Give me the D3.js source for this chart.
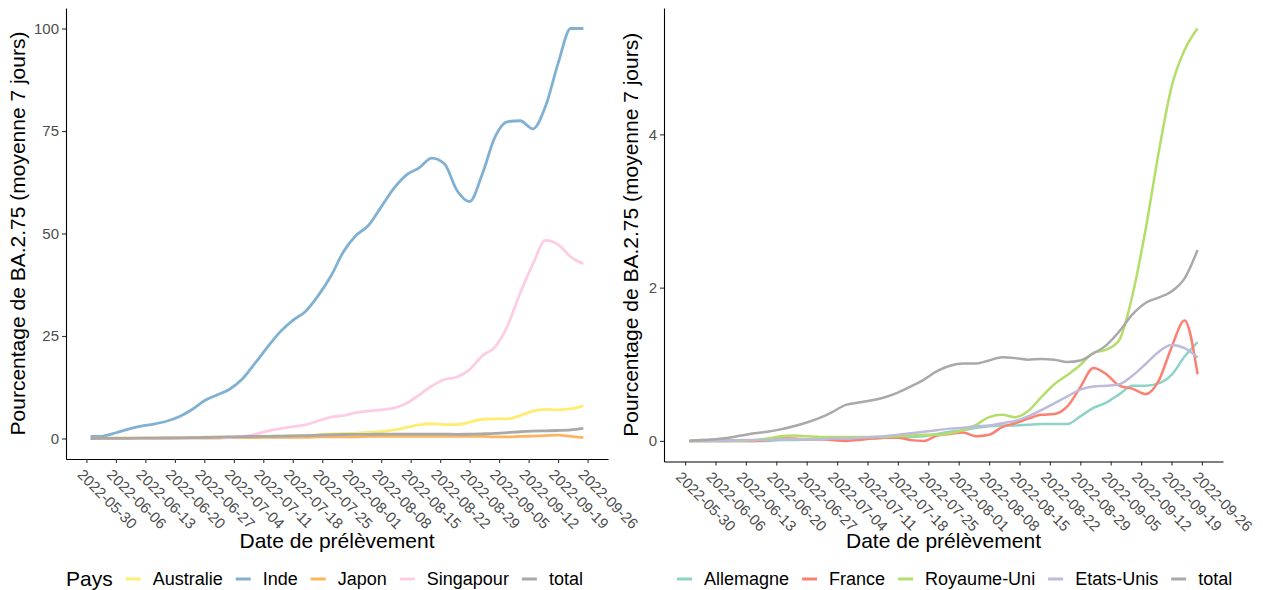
<!DOCTYPE html>
<html>
<head>
<meta charset="utf-8">
<script src="https://cdn.jsdelivr.net/npm/d3@7"></script>
<style>
  body { margin: 0; background: #fff; }
  svg { font-family: "Liberation Sans", Arial, sans-serif; }
</style>
</head>
<body>
<script>
// dates de prélèvement (un point tous les 3 jours)
const dates = ["2022-05-31","2022-06-03","2022-06-06","2022-06-09","2022-06-12","2022-06-15","2022-06-18","2022-06-21",
  "2022-06-24","2022-06-27","2022-06-30","2022-07-03","2022-07-06","2022-07-09","2022-07-12","2022-07-15","2022-07-18",
  "2022-07-21","2022-07-24","2022-07-27","2022-07-30","2022-08-02","2022-08-05","2022-08-08","2022-08-11","2022-08-14",
  "2022-08-17","2022-08-20","2022-08-23","2022-08-26","2022-08-29","2022-09-01","2022-09-04","2022-09-07","2022-09-10",
  "2022-09-13","2022-09-16","2022-09-19","2022-09-22","2022-09-25"];

const weekTicks = ["2022-05-30","2022-06-06","2022-06-13","2022-06-20","2022-06-27","2022-07-04","2022-07-11","2022-07-18",
  "2022-07-25","2022-08-01","2022-08-08","2022-08-15","2022-08-22","2022-08-29","2022-09-05","2022-09-12","2022-09-19","2022-09-26"];

// graphique de gauche
const australie = [0.1,0.1,0.1,0.1,0.1,0.1,0.2,0.2,0.2,0.3,0.3,0.4,0.5,0.5,0.6,0.6,0.7,0.7,0.9,1.1,
  1.2,1.3,1.5,1.7,2.1,2.7,3.3,3.6,3.4,3.4,4.0,4.7,4.8,4.8,5.6,6.7,7.1,7.0,7.2,8.0];
const inde = [0.5,0.6,1.4,2.3,3.0,3.5,4.2,5.3,7.0,9.2,10.6,12.0,14.5,18.3,22.3,26.0,28.8,31.0,34.8,39.5,
  45.5,49.5,52.0,56.5,61.0,64.3,66.0,68.4,67.0,60.5,57.8,64.5,73.5,77.3,77.5,75.5,81.0,91.5,100,100];
const japon = [0.1,0.1,0.1,0.1,0.1,0.1,0.1,0.1,0.1,0.1,0.1,0.2,0.2,0.2,0.3,0.3,0.3,0.3,0.4,0.4,
  0.4,0.4,0.5,0.5,0.5,0.5,0.5,0.5,0.5,0.5,0.5,0.5,0.4,0.4,0.5,0.6,0.7,0.8,0.5,0.2];
const singapour = [0,0,0,0,0,0.05,0.1,0.1,0.1,0.2,0.2,0.3,0.5,1.0,1.8,2.4,2.9,3.3,4.3,5.2,
  5.6,6.3,6.7,7.0,7.4,8.6,10.6,12.8,14.4,15.0,16.8,20.2,22.3,27.5,35.5,42.5,48.3,47.3,44.3,42.6];
const total = [0.0,0.01,0.02,0.04,0.07,0.10,0.12,0.15,0.19,0.24,0.30,0.38,0.47,0.50,0.53,0.57,0.63,0.71,0.80,0.91,
  0.98,1.01,1.01,1.05,1.09,1.08,1.06,1.07,1.06,1.03,1.05,1.14,1.25,1.43,1.65,1.80,1.87,1.95,2.12,2.49];

// graphique de droite
const allemagne = [0,0.01,0.01,0.01,0,0,0,0.01,0.01,0.02,0.02,0.02,0.03,0.03,0.03,0.04,0.04,0.05,0.06,0.09,
  0.12,0.14,0.17,0.19,0.20,0.20,0.21,0.22,0.22,0.22,0.32,0.43,0.50,0.61,0.72,0.72,0.75,0.86,1.10,1.29];
const france = [0,0,0,0,0,0,0.01,0.03,0.03,0.02,0.02,0.01,0,0.01,0.03,0.04,0.04,0.01,0,0.07,
  0.09,0.11,0.06,0.08,0.18,0.23,0.29,0.34,0.35,0.45,0.70,0.95,0.87,0.72,0.68,0.61,0.78,1.22,1.57,0.87];
const royaumeUni = [0,0,0,0,0,0.01,0.03,0.06,0.07,0.06,0.05,0.05,0.05,0.05,0.05,0.05,0.06,0.07,0.08,0.08,
  0.10,0.14,0.21,0.31,0.34,0.31,0.39,0.57,0.74,0.86,0.99,1.15,1.19,1.32,1.90,2.75,3.75,4.62,5.10,5.38];
const etatsUnis = [0,0,0,0,0.01,0.01,0.01,0.02,0.02,0.02,0.02,0.03,0.03,0.04,0.05,0.06,0.08,0.10,0.12,0.14,
  0.16,0.17,0.19,0.20,0.23,0.26,0.32,0.40,0.49,0.58,0.67,0.71,0.72,0.74,0.85,1.00,1.16,1.25,1.21,1.09];

const leftNames = ["Australie", "Inde", "Japon", "Singapour", "total"];
const leftValues = [australie, inde, japon, singapour, total];
const leftTicks = [0, 25, 50, 75, 100];
const rightNames = ["Allemagne", "France", "Royaume-Uni", "Etats-Unis", "total"];
const rightValues = [allemagne, france, royaumeUni, etatsUnis, total];
const rightTicks = [0, 2, 4];

const leftColors = ["#FFED6F", "#80B1D3", "#FDB462", "#FCCDE5", "#A9A9A9"];
const rightColors = ["#8DD3C7", "#FB8072", "#B3DE69", "#BEBADA", "#A9A9A9"];

const parse = d3.utcParse("%Y-%m-%d");
const fmt = d3.utcFormat("%Y-%m-%d");
const xs = dates.map(parse);

const svg = d3.select("body").append("svg")
  .attr("width", 1263)
  .attr("height", 590);
svg.append("rect").attr("width", 1263).attr("height", 590).attr("fill", "#fff");

function panel(p) {
  const g = svg.append("g");
  const ext = d3.extent(xs);
  const span = ext[1] - ext[0];
  const x = d3.scaleUtc()
    .domain([new Date(+ext[0] - span * 0.05), new Date(+ext[1] + span * 0.05)])
    .range([p.left, p.right]);
  const all = p.values.flat();
  const lo = d3.min(all), hi = d3.max(all), pad = (hi - lo) * 0.05;
  const y = d3.scaleLinear().domain([lo - pad, hi + pad]).range([p.bottom, p.top]);

  // axe y
  const ay = g.append("g")
    .attr("transform", `translate(${p.left},0)`)
    .call(d3.axisLeft(y).tickValues(p.ticks).tickFormat(d3.format("~g"))
      .tickSize(4).tickSizeOuter(0).tickPadding(3));
  ay.select(".domain").attr("stroke", "#000").attr("stroke-width", 1.1);
  ay.selectAll(".tick line").attr("stroke", "#333").attr("stroke-width", 1.1);
  ay.selectAll(".tick text").attr("font-size", 15).attr("fill", "#4D4D4D")
    .attr("font-family", "Liberation Sans, Arial, sans-serif");

  // axe x
  const ax = g.append("g")
    .attr("transform", `translate(0,${p.bottom})`)
    .call(d3.axisBottom(x).tickValues(weekTicks.map(parse)).tickFormat(fmt)
      .tickSize(4).tickSizeOuter(0));
  ax.select(".domain").attr("stroke", "#000").attr("stroke-width", 1.1);
  ax.selectAll(".tick line").attr("stroke", "#333").attr("stroke-width", 1.1);
  ax.selectAll(".tick text")
    .attr("font-size", 15).attr("fill", "#4D4D4D")
    .attr("font-family", "Liberation Sans, Arial, sans-serif")
    .attr("text-anchor", "start")
    .attr("x", 0).attr("y", 0).attr("dy", "0.71em")
    .attr("transform", "translate(-3,9) rotate(45)");

  // courbes
  const line = d3.line()
    .x((d, i) => x(xs[i]))
    .y(d => y(d))
    .curve(d3.curveMonotoneX);
  p.values.forEach((vals, i) => {
    g.append("path")
      .attr("d", line(vals))
      .attr("fill", "none")
      .attr("stroke", p.colors[i])
      .attr("stroke-width", p.lw)
      .attr("stroke-linejoin", "round")
      .attr("stroke-linecap", "butt");
  });

  // titres
  g.append("text")
    .attr("x", (p.left + p.right) / 2)
    .attr("y", 548)
    .attr("text-anchor", "middle")
    .attr("font-size", 21)
    .text("Date de prélèvement");
  g.append("text")
    .attr("transform", `translate(${p.ytitleX},${(p.top + p.bottom) / 2}) rotate(-90)`)
    .attr("text-anchor", "middle")
    .attr("font-size", 21)
    .text("Pourcentage de BA.2.75 (moyenne 7 jours)");

  // légende
  const lg = g.append("g");
  let cx = p.legendX;
  if (p.legendTitle) {
    const t = lg.append("text").attr("x", cx).attr("y", 586).attr("font-size", 21).text(p.legendTitle);
    cx += t.node().getComputedTextLength() + 13;
  }
  p.names.forEach((n, i) => {
    lg.append("line")
      .attr("x1", cx).attr("x2", cx + 15)
      .attr("y1", 579).attr("y2", 579)
      .attr("stroke", p.colors[i]).attr("stroke-width", 3);
    const t = lg.append("text").attr("x", cx + 27).attr("y", 585).attr("font-size", 18).text(n);
    cx += 27 + t.node().getComputedTextLength() + 13;
  });
}

panel({ left: 66, right: 608, top: 8, bottom: 459, values: leftValues, names: leftNames,
  colors: leftColors, ticks: leftTicks, lw: 2.8, ytitleX: 25, legendX: 66, legendTitle: "Pays" });
panel({ left: 664, right: 1223, top: 8, bottom: 461.5, values: rightValues, names: rightNames,
  colors: rightColors, ticks: rightTicks, lw: 2.5, ytitleX: 638, legendX: 677, legendTitle: null });
</script>
</body>
</html>
